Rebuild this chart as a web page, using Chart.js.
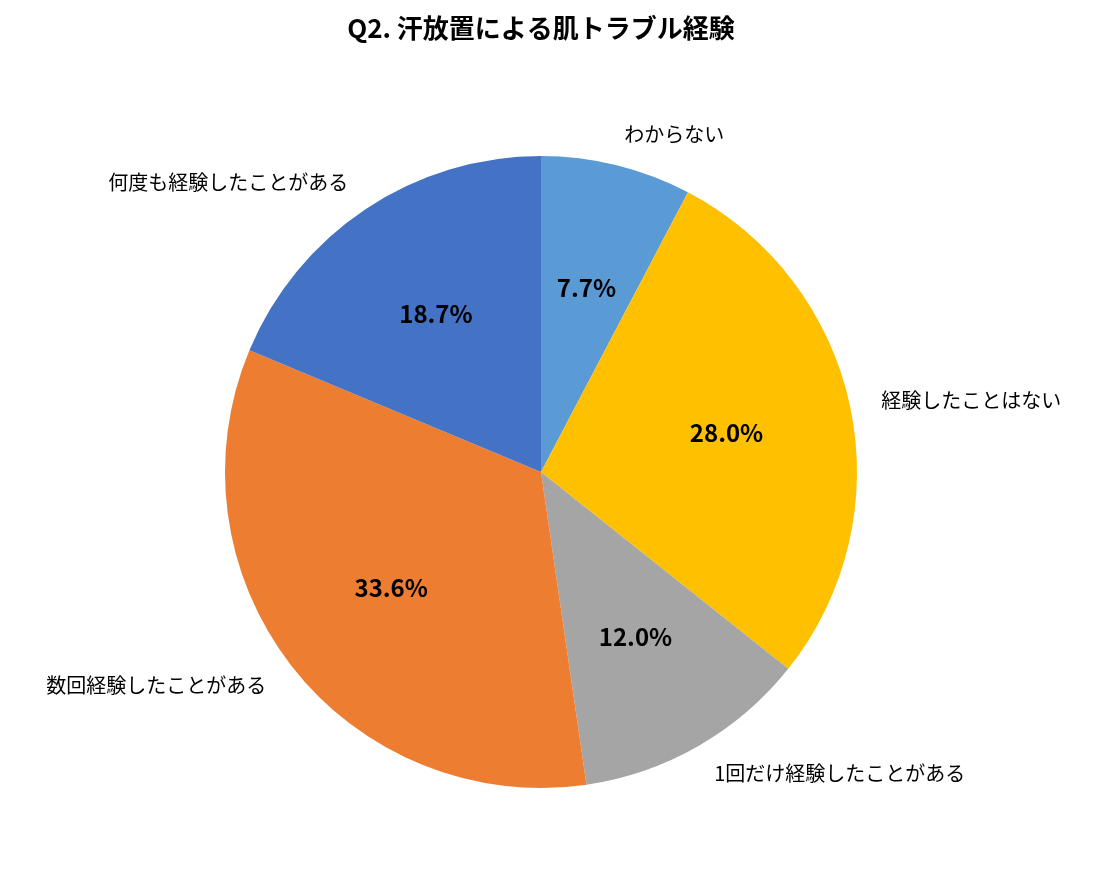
<!DOCTYPE html>
<html><head><meta charset="utf-8">
<script src="https://cdn.jsdelivr.net/npm/chart.js@4"></script>
<style>html,body{margin:0;padding:0;background:#fff}#w{width:1101px;height:883px}</style>
</head><body><div id="w"><canvas id="c"></canvas></div>
<script>
const categories = ["わからない","経験したことはない","1回だけ経験したことがある","数回経験したことがある","何度も経験したことがある"];
const values = [7.7,28.0,12.0,33.6,18.7];
const colors = ["#5B9BD5","#FFC000","#A5A5A5","#ED7D31","#4472C4"];
const titleText = "Q2. 汗放置による肌トラブル経験";
const FONT = "'Noto Sans CJK JP','Noto Sans',sans-serif";
const labelPlugin = {
  id:'lbl',
  afterDraw(chart){
    const ctx = chart.ctx;
    ctx.save();
    ctx.fillStyle='#000';
    ctx.font = "bold 26px "+FONT;
    ctx.textAlign='center'; ctx.textBaseline='middle';
    ctx.fillText(titleText, 541, 28);
    const meta = chart.getDatasetMeta(0);
    meta.data.forEach((arc,i)=>{
      const a = (arc.startAngle+arc.endAngle)/2;
      const r = arc.outerRadius, x0 = arc.x, y0 = arc.y;
      ctx.font = "bold 24px "+FONT;
      ctx.textAlign='center';
      ctx.fillText(values[i].toFixed(1)+"%", x0+Math.cos(a)*r*0.6, y0+Math.sin(a)*r*0.6);
      ctx.font = "20px "+FONT;
      const lx = x0+Math.cos(a)*r*1.1, ly = y0+Math.sin(a)*r*1.1;
      ctx.textAlign = Math.cos(a)>=0 ? 'left' : 'right';
      ctx.fillText(categories[i], lx, ly);
    });
    ctx.restore();
  }
};
new Chart(document.getElementById('c'),{
  type:'pie',
  data:{labels:categories,datasets:[{data:values,backgroundColor:colors,borderColor:'#fff',borderWidth:0}]},
  options:{responsive:true,maintainAspectRatio:false,animation:false,
    layout:{padding:{top:156,bottom:95,left:225,right:244}},
    plugins:{legend:{display:false},tooltip:{enabled:false},title:{display:false}}},
  plugins:[labelPlugin]
});
</script></body></html>
